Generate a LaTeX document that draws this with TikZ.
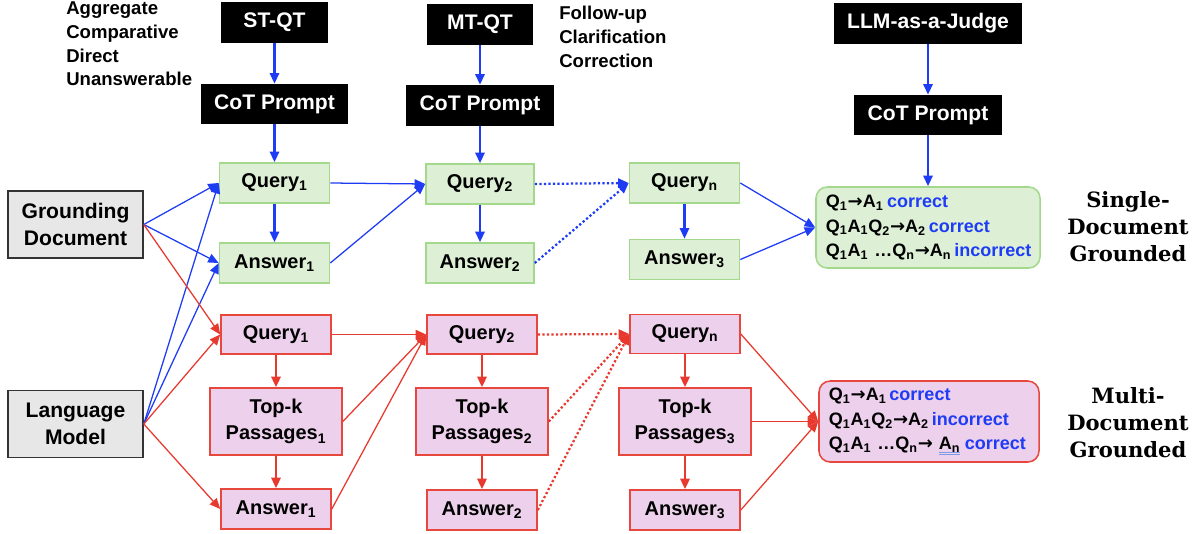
\documentclass[tikz,border=0pt]{standalone}
\usepackage{fontspec}
\setmainfont{Liberation Sans}
\newfontfamily\serifb{DejaVu Serif}
\newfontfamily\dejavu{DejaVu Sans}
\usetikzlibrary{arrows.meta}
\definecolor{cblue}{HTML}{1F3CF5}
\definecolor{cred}{HTML}{E8392F}
\definecolor{gfill}{HTML}{DDF0D5}
\definecolor{gdraw}{HTML}{A3D88D}
\definecolor{pfill}{HTML}{EDD0EC}
\definecolor{pdraw}{HTML}{E8473D}
\definecolor{gryfill}{HTML}{E7E7E7}
\definecolor{ulblue}{HTML}{7F9BE6}
\newcommand\dblu[1]{\setbox0\hbox{#1}\rlap{\color{ulblue}\rule[-2.2pt]{\wd0}{0.45pt}}\rlap{\color{ulblue}\rule[-3.6pt]{\wd0}{0.45pt}}\box0}
\newcommand\ar{{\dejavu\bfseries →}}
\newcommand\sub[1]{\textsubscript{#1}}
\tikzset{
  base/.style={font=\bfseries\fontsize{14.2}{19}\selectfont, inner sep=0pt, align=center},
  blk/.style={base, fill=black, text=white, minimum height=1.025cm, font=\bfseries\fontsize{15}{19}\selectfont},
  grn/.style={base, fill=gfill, draw=gdraw, line width=1.1pt, minimum width=2.75cm, minimum height=1cm},
  pnk/.style={base, fill=pfill, draw=pdraw, line width=1.1pt, minimum width=2.75cm, minimum height=0.98cm},
  tpk/.style={pnk, minimum width=3.3cm, minimum height=1.675cm},
  gry/.style={base, fill=gryfill, draw=black!80, line width=1.1pt, minimum width=3.375cm, minimum height=1.67cm, font=\bfseries\fontsize{15}{19}\selectfont},
  res/.style={base, rounded corners=8pt, line width=1.1pt, align=left, text width=5.1cm, inner xsep=0.25cm, minimum height=2.025cm, font=\bfseries\fontsize{12.8}{17.5}\selectfont},
  side/.style={anchor=west, inner sep=0pt, align=left, font=\bfseries\fontsize{13.2}{16.9}\selectfont},
  lab/.style={inner sep=0pt, align=center, font=\serifb\bfseries\fontsize{15}{19.3}\selectfont},
  tip/.style={-{Triangle[length=7.5pt,width=6.5pt]}},
  thickb/.style={tip, cblue, line width=1.6pt},
  thinb/.style={tip, cblue, line width=0.9pt},
  dotb/.style={tip, cblue, line width=1.6pt, dash pattern=on 1.6pt off 1.6pt},
  thickr/.style={tip, cred, line width=1.8pt},
  thinr/.style={tip, cred, line width=0.9pt},
  dotr/.style={tip, cred, line width=1.6pt, dash pattern=on 1.6pt off 1.6pt},
}
\begin{document}
\begin{tikzpicture}[x=0.025cm,y=-0.025cm]
\useasboundingbox (0,0) rectangle (1200,533);

% header boxes
\node[blk, minimum width=2.675cm] (stqt) at (274.5,22.5) {ST-QT};
\node[blk, minimum width=3.675cm, minimum height=1cm] (cot1) at (274.5,104) {CoT Prompt};
\node[blk, minimum width=2.65cm] (mtqt) at (480,24.5) {MT-QT};
\node[blk, minimum width=3.675cm] (cot2) at (480,105.5) {CoT Prompt};
\node[blk, minimum width=4.7cm] (judge) at (928,23.5) {LLM-as-a-Judge};
\node[blk, minimum width=3.675cm, minimum height=1cm] (cot3) at (928,115) {CoT Prompt};

\node[side] (qtypes1) at (66,44) {Aggregate\\Comparative\\Direct\\Unanswerable};
\node[side] (qtypes2) at (559,37) {Follow-up\\Clarification\\Correction};

% sources
\node[gry] (gd) at (75.5,224.5) {Grounding\\Document};
\node[gry] (lm) at (75.5,424) {Language\\Model};

% green row
\node[grn] (q1g) at (274.5,183) {Query\sub{1}};
\node[grn] (a1g) at (274.5,263) {Answer\sub{1}};
\node[grn, minimum width=2.7cm] (q2g) at (480,184) {Query\sub{2}};
\node[grn, minimum width=2.7cm] (a2g) at (480,263) {Answer\sub{2}};
\node[grn] (qng) at (684.5,183) {Query\sub{n}};
\node[grn] (a3g) at (684.5,259.5) {Answer\sub{3}};

% pink rows
\node[pnk] (q1p) at (276,334.5) {Query\sub{1}};
\node[tpk] (tk1) at (276,421.5) {Top-k\\Passages\sub{1}};
\node[pnk, minimum height=1cm] (a1p) at (276,509) {Answer\sub{1}};
\node[pnk] (q2p) at (482,334.5) {Query\sub{2}};
\node[tpk] (tk2) at (482,421.5) {Top-k\\Passages\sub{2}};
\node[pnk, minimum height=1cm] (a2p) at (482,510) {Answer\sub{2}};
\node[pnk] (qnp) at (685,334) {Query\sub{n}};
\node[tpk] (tk3) at (685,421.5) {Top-k\\Passages\sub{3}};
\node[pnk, minimum height=1cm] (a3p) at (685,510) {Answer\sub{3}};

% results
\node[res, fill=gfill, draw=gdraw, minimum width=5.55cm] (resg) at (928,227.5)
 {\mbox{Q\sub{1}\ar A\sub{1}\hspace{0.2em}\textcolor{cblue}{correct}}\\
  \mbox{Q\sub{1}A\sub{1}Q\sub{2}\ar A\sub{2}\,\textcolor{cblue}{correct}}\\
  \mbox{Q\sub{1}A\sub{1} …Q\sub{n}\ar A\sub{n}\,\textcolor{cblue}{incorrect}}};
\node[res, fill=pfill, draw=pdraw, minimum width=5.45cm, text width=5cm] (resp) at (929,421.5)
 {\mbox{Q\sub{1}\ar A\sub{1}\,\textcolor{cblue}{correct}}\\
  \mbox{Q\sub{1}A\sub{1}Q\sub{2}\ar A\sub{2}\,\textcolor{cblue}{incorrect}}\\
  \mbox{Q\sub{1}A\sub{1} …Q\sub{n}\ar\ \dblu{A\sub{n}}\hspace{0.25em}\textcolor{cblue}{correct}}};

\node[lab] (sdg) at (1128,226.5) {Single-\\Document\\Grounded};
\node[lab] (mdg) at (1128,422.5) {Multi-\\Document\\Grounded};

% vertical flows (blue)
\draw[thickb] (stqt.south) -- (cot1.north);
\draw[thickb] (cot1.south) -- (q1g.north);
\draw[thickb] (mtqt.south) -- (cot2.north);
\draw[thickb] (cot2.south) -- (q2g.north);
\draw[thickb] (judge.south) -- (cot3.north);
\draw[thickb] (cot3.south) -- (resg.north);
\draw[thickb] (q1g.south) -- (a1g.north);
\draw[thickb] (q2g.south) -- (a2g.north);
\draw[thickb] (qng.south) -- (a3g.north);

% sources to first column
\draw[thinb] (gd.east) -- (q1g.west);
\draw[thinb] (gd.east) -- (a1g.west);
\draw[thinb] (lm.east) -- (q1g.west);
\draw[thinb] (lm.east) -- (a1g.west);
\draw[thinr] (gd.east) -- (q1p.west);
\draw[thinr] (lm.east) -- (q1p.west);
\draw[thinr] (lm.east) -- (a1p.west);

% green chain
\draw[thinb] (q1g.east) -- (q2g.west);
\draw[thinb] (a1g.east) -- (q2g.west);
\draw[dotb] (q2g.east) -- (qng.west);
\draw[dotb] (a2g.east) -- (qng.west);
\draw[thinb] (qng.east) -- (resg.west);
\draw[thinb] (a3g.east) -- (resg.west);

% pink chain
\draw[thickr] (q1p.south) -- (tk1.north);
\draw[thickr] (tk1.south) -- (a1p.north);
\draw[thickr] (q2p.south) -- (tk2.north);
\draw[thickr] (tk2.south) -- (a2p.north);
\draw[thickr] (qnp.south) -- (tk3.north);
\draw[thickr] (tk3.south) -- (a3p.north);
\draw[thinr] (q1p.east) -- (q2p.west);
\draw[thinr] (tk1.east) -- (q2p.west);
\draw[thinr] (a1p.east) -- (q2p.west);
\draw[dotr] (q2p.east) -- (qnp.west);
\draw[dotr] (tk2.east) -- (qnp.west);
\draw[dotr] (a2p.east) -- (qnp.west);
\draw[thinr] (qnp.east) -- (resp.west);
\draw[thinr] (tk3.east) -- (resp.west);
\draw[thinr] (a3p.east) -- (resp.west);
\end{tikzpicture}
\end{document}
